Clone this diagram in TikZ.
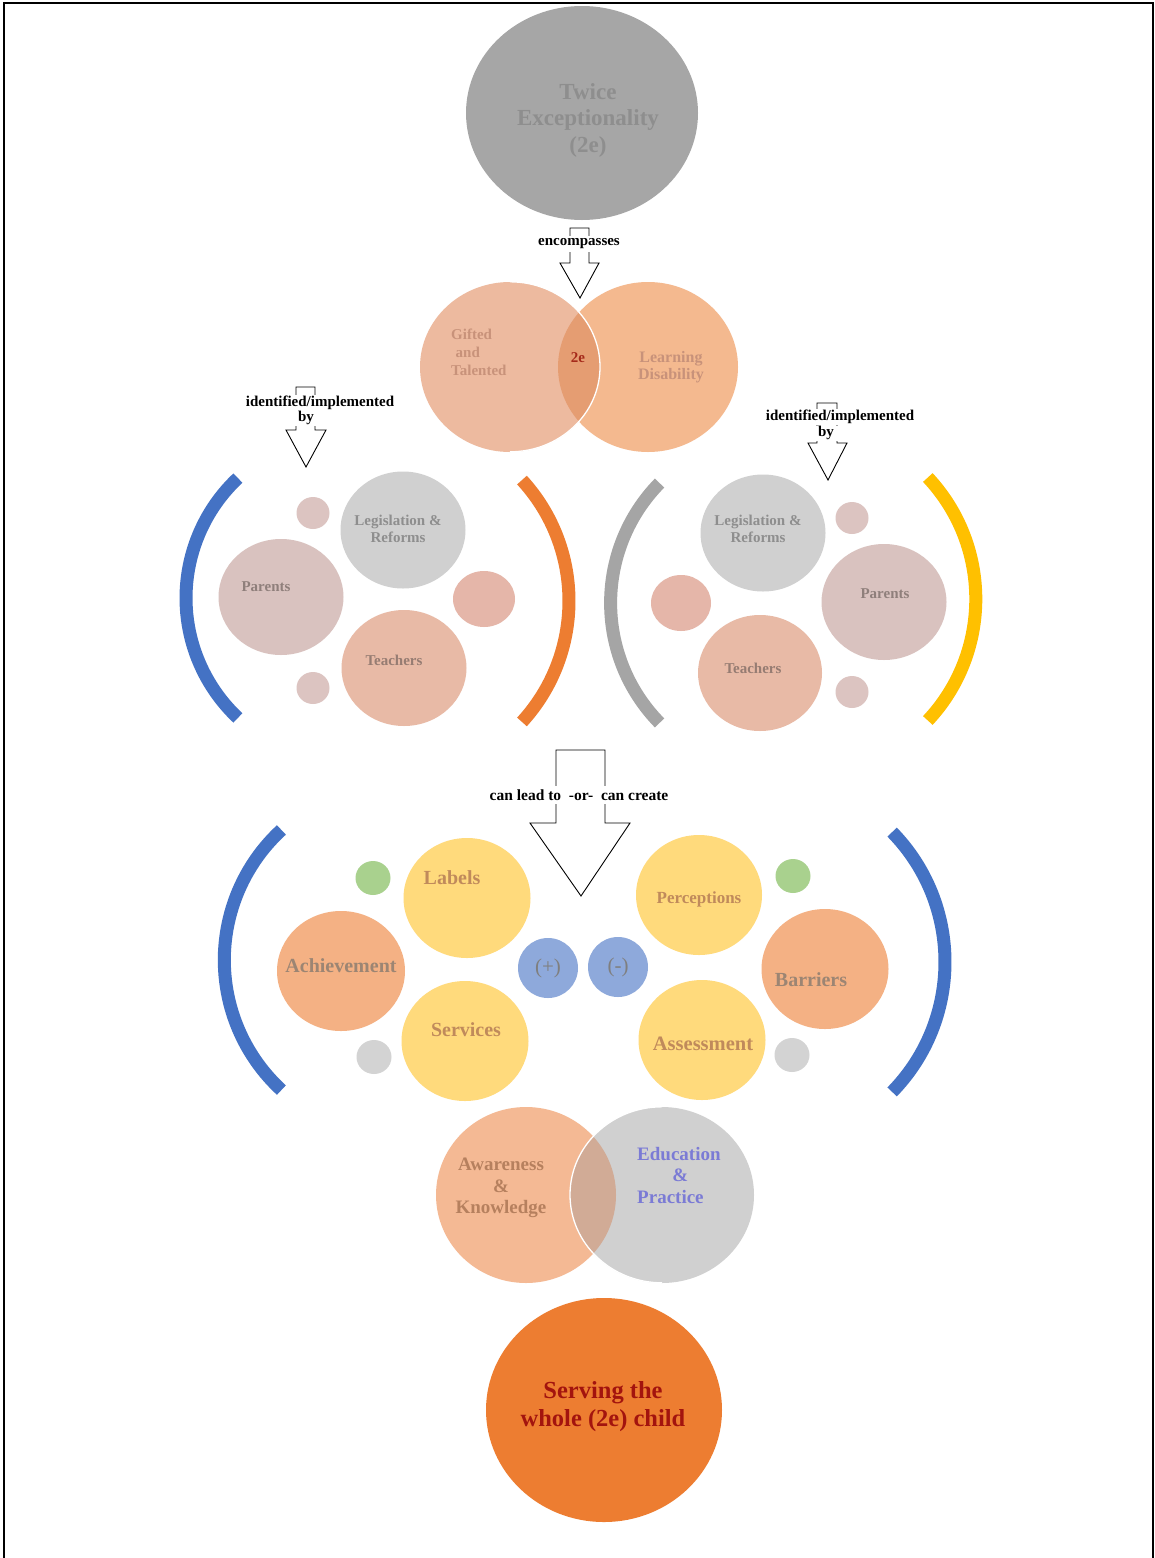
\documentclass[tikz,border=0pt]{standalone}
\usepackage{fontspec}
\setmainfont{Liberation Serif}
\usetikzlibrary{shapes.geometric}
\definecolor{cTop}{HTML}{A6A6A6}
\definecolor{cTopT}{HTML}{8E8E8E}
\definecolor{cGT}{HTML}{EDBA9F}
\definecolor{cLD}{HTML}{F4B98F}
\definecolor{cOv}{HTML}{E59D72}
\definecolor{cGTt}{HTML}{C8927A}
\definecolor{cTwoE}{HTML}{A52A1A}
\definecolor{cLeg}{HTML}{D0D0D0}
\definecolor{cPar}{HTML}{D9C2BF}
\definecolor{cTea}{HTML}{E8BAA6}
\definecolor{cSm}{HTML}{DCC4C1}
\definecolor{cSmR}{HTML}{E5B6A9}
\definecolor{cGrT}{HTML}{8E8E8E}
\definecolor{cParT}{HTML}{8F7F7B}
\definecolor{cTeaT}{HTML}{967C72}
\definecolor{cBlue}{HTML}{4472C4}
\definecolor{cOr}{HTML}{ED7D31}
\definecolor{cGray}{HTML}{A5A5A5}
\definecolor{cYel}{HTML}{FFC000}
\definecolor{cY}{HTML}{FFDA7C}
\definecolor{cYt}{HTML}{C08A5B}
\definecolor{cAch}{HTML}{F4B184}
\definecolor{cAcht}{HTML}{9C8573}
\definecolor{cGreen}{HTML}{A9D18E}
\definecolor{cGs}{HTML}{D3D3D3}
\definecolor{cPM}{HTML}{8EA9DB}
\definecolor{cPMt}{HTML}{7F7F7F}
\definecolor{cAw}{HTML}{F4B994}
\definecolor{cEd}{HTML}{D0D0D0}
\definecolor{cAwEd}{HTML}{D1AB96}
\definecolor{cAwt}{HTML}{B6805E}
\definecolor{cEdt}{HTML}{7B7BD5}
\definecolor{cServT}{HTML}{A3140E}
\newcommand\fsz[2]{\fontsize{#1}{#2}\selectfont}
\begin{document}
\begin{tikzpicture}[x=1pt,y=-1pt,
  bub/.style={ellipse, inner sep=0pt, draw=none},
  lbl/.style={inner sep=0pt, align=center, font=\bfseries\fsz{16}{18}},
  arrowshape/.style={draw=black, line width=0.9pt, fill=white, line join=miter},
  cue/.style={fill=white, inner xsep=1.5pt, inner ysep=2.5pt, font=\bfseries\fsz{15}{17}},
  bracketarc/.style={line width=13pt}]
\useasboundingbox (0,0) rectangle (1155,1558);
\fill[white] (0,0) rectangle (1155,1558);
\draw[line width=2.2pt] (4,1558) -- (4,3) -- (1153,3) -- (1153,1558);

% ---------- top circle
\node[bub, fill=cTop, minimum width=232pt, minimum height=214pt] (twice) at (582,113) {};
\node[lbl, text=cTopT, font=\bfseries\fsz{23}{26.5}] (twicet) at (588,120) {Twice\\Exceptionality\\(2e)};

% ---------- Venn 1
\node[bub, fill=cLD, minimum width=180pt, minimum height=170pt] (ld) at (648,367) {};
\node[bub, fill=cGT, minimum width=180pt, minimum height=170pt] (gt) at (510,367) {};
\begin{scope}
  \clip (510,367) ellipse [x radius=90pt, y radius=85pt];
  \fill[cOv] (648,367) ellipse [x radius=90pt, y radius=85pt];
\end{scope}
\draw[white, line width=1.3pt] (gt.north) arc[start angle=90, end angle=-90, x radius=90pt, y radius=85pt];
\node[lbl, anchor=west, align=left, text=cGTt, font=\bfseries\fsz{15}{18}] (gtt) at (451,352) {Gifted\\\hspace{0.3em}and\\Talented};
\node[lbl, text=cGTt, font=\bfseries\fsz{16}{17.5}] (ldt) at (671,367) {Learning\\Disability};
\node[lbl, text=cTwoE, font=\bfseries\fsz{15}{17}] (twoe) at (578,358) {2e};

% encompasses arrow
\draw[arrowshape] (570,228) -- (589,228) -- (589,263) -- (599,263) -- (580,298) -- (560,263) -- (570,263) -- cycle;
\node[cue] (enc) at (579,244) {encompasses};

% ---------- left group
\draw[arrowshape] (296,387) -- (315,387) -- (315,430) -- (326,430) -- (306,467) -- (286,430) -- (296,430) -- cycle;
\node[cue, inner ysep=1pt, minimum height=16pt] (idL) at (320,403) {identified/implemented};
\node[cue, inner ysep=0.5pt, minimum width=28pt, minimum height=15pt] (byL) at (306,418) {by};

\draw[cBlue, bracketarc] ([shift={(133.2:164.5pt)}]350.5,598) arc[start angle=133.2, end angle=226.8, radius=164.5pt];
\draw[cOr, bracketarc] ([shift={(-42.5:179pt)}]390,601) arc[start angle=-42.5, end angle=42.5, radius=179pt];

\node[bub, fill=cSm, minimum width=33pt, minimum height=32pt] (sL1) at (313,513) {};
\node[bub, fill=cLeg, minimum width=125pt, minimum height=117pt] (legL) at (403,530) {};
\node[bub, fill=cPar, minimum width=125pt, minimum height=116pt] (parL) at (281,597) {};
\node[bub, fill=cSmR, minimum width=62pt, minimum height=56pt] (sL2) at (484,599) {};
\node[bub, fill=cTea, minimum width=125pt, minimum height=116pt] (teaL) at (404,668) {};
\node[bub, fill=cSm, minimum width=33pt, minimum height=32pt] (sL3) at (313,688) {};
\node[lbl, text=cGrT, font=\bfseries\fsz{15}{17}] (legLt) at (398,529) {Legislation \&\\Reforms};
\node[lbl, text=cParT, font=\bfseries\fsz{15}{17}] (parLt) at (266,587) {Parents};
\node[lbl, text=cTeaT, font=\bfseries\fsz{15}{17}] (teaLt) at (394,660) {Teachers};

% ---------- right group
\draw[arrowshape] (817,403) -- (837,403) -- (837,443) -- (847,443) -- (828,480) -- (808,443) -- (817,443) -- cycle;
\node[cue, inner ysep=1pt, minimum height=16pt] (idR) at (840,417) {identified/implemented};
\node[cue, inner ysep=0.5pt, minimum width=28pt, minimum height=15pt] (byR) at (826,433) {by};

\draw[cGray, bracketarc] ([shift={(135.6:171.4pt)}]782,603) arc[start angle=135.6, end angle=224.4, radius=171.4pt];
\draw[cYel, bracketarc] ([shift={(-43.1:177.8pt)}]798,599) arc[start angle=-43.1, end angle=43.1, radius=177.8pt];

\node[bub, fill=cLeg, minimum width=125pt, minimum height=117pt] (legR) at (763,533) {};
\node[bub, fill=cSm, minimum width=33pt, minimum height=32pt] (sR1) at (852,518) {};
\node[bub, fill=cPar, minimum width=125pt, minimum height=116pt] (parR) at (884,602) {};
\node[bub, fill=cSmR, minimum width=60pt, minimum height=56pt] (sR2) at (681,603) {};
\node[bub, fill=cTea, minimum width=124pt, minimum height=116pt] (teaR) at (760,673) {};
\node[bub, fill=cSm, minimum width=33pt, minimum height=32pt] (sR3) at (852,692) {};
\node[lbl, text=cGrT, font=\bfseries\fsz{15}{17}] (legRt) at (758,529) {Legislation \&\\Reforms};
\node[lbl, text=cParT, font=\bfseries\fsz{15}{17}] (parRt) at (885,594) {Parents};
\node[lbl, text=cTeaT, font=\bfseries\fsz{15}{17}] (teaRt) at (753,668) {Teachers};

% ---------- middle arrow
\draw[arrowshape] (556,750) -- (605,750) -- (605,823) -- (630,823) -- (581,896) -- (530,823) -- (556,823) -- cycle;
\node[cue, font=\bfseries\fsz{15.5}{17}, inner ysep=4pt] (lead) at (579,795) {can lead to\ \ -or-\ \ can create};

% ---------- bottom group
\draw[cBlue, bracketarc] ([shift={(132.6:176.7pt)}]401,960) arc[start angle=132.6, end angle=227.4, radius=176.7pt];
\draw[cBlue, bracketarc] ([shift={(-44.3:186pt)}]759,962) arc[start angle=-44.3, end angle=44.3, radius=186pt];

\node[bub, fill=cGreen, minimum width=35pt, minimum height=34pt] (gL) at (373,878) {};
\node[bub, fill=cY, minimum width=127pt, minimum height=120pt] (labels) at (467,898) {};
\node[bub, fill=cAch, minimum width=128pt, minimum height=120pt] (ach) at (341,971) {};
\node[bub, fill=cY, minimum width=127pt, minimum height=120pt] (serv) at (465,1041) {};
\node[bub, fill=cGs, minimum width=35pt, minimum height=34pt] (gsL) at (374,1057) {};
\node[bub, fill=cPM, minimum width=60pt, minimum height=60pt] (plus) at (548,968) {};
\node[bub, fill=cPM, minimum width=60pt, minimum height=60pt] (minus) at (618,967) {};
\node[bub, fill=cY, minimum width=126pt, minimum height=120pt] (perc) at (699,895) {};
\node[bub, fill=cGreen, minimum width=35pt, minimum height=34pt] (gR) at (793,876) {};
\node[bub, fill=cAch, minimum width=127pt, minimum height=120pt] (barr) at (825,969) {};
\node[bub, fill=cY, minimum width=127pt, minimum height=120pt] (assess) at (702,1040) {};
\node[bub, fill=cGs, minimum width=35pt, minimum height=34pt] (gsR) at (792,1055) {};

\node[lbl, text=cYt, font=\bfseries\fsz{20}{22}] (labelst) at (452,878) {Labels};
\node[lbl, text=cAcht, font=\bfseries\fsz{20}{22}] (acht) at (341,966) {Achievement};
\node[lbl, text=cYt, font=\bfseries\fsz{20}{22}] (servt) at (466,1030) {Services};
\node[lbl, text=cPMt, font=\fsz{21}{22}] (plust) at (548,968) {(+)};
\node[lbl, text=cPMt, font=\fsz{21}{22}] (minust) at (618,967) {(-)};
\node[lbl, text=cYt, font=\bfseries\fsz{17}{19}] (perct) at (699,899) {Perceptions};
\node[lbl, text=cAcht, font=\bfseries\fsz{20}{22}] (barrt) at (811,980) {Barriers};
\node[lbl, text=cYt, font=\bfseries\fsz{20.5}{22}] (assesst) at (703,1044) {Assessment};

% ---------- Venn 2
\node[bub, fill=cAw, minimum width=180pt, minimum height=176pt] (aw) at (526,1195) {};
\node[bub, fill=cEd, minimum width=184pt, minimum height=176pt] (ed) at (662,1195) {};
\begin{scope}
  \clip (526,1195) ellipse [x radius=90pt, y radius=88pt];
  \fill[cAwEd] (662,1195) ellipse [x radius=92pt, y radius=88pt];
\end{scope}
\draw[white, line width=1.3pt] (ed.north) arc[start angle=90, end angle=270, x radius=92pt, y radius=88pt];
\node[lbl, text=cAwt, font=\bfseries\fsz{19}{21.5}] (awt) at (501,1188) {Awareness\\\&\\Knowledge};
\node[lbl, anchor=west, align=left, text=cEdt, font=\bfseries\fsz{19}{21.5}] (edt) at (637,1175) {Education\\\hspace{1.85em}\&\\Practice};

% ---------- final circle
\node[bub, fill=cOr, minimum width=236pt, minimum height=224pt] (whole) at (604,1410) {};
\node[lbl, text=cServT, font=\bfseries\fsz{24.5}{28}] (wholet) at (603,1407) {Serving the\\whole (2e) child};
\end{tikzpicture}
\end{document}
